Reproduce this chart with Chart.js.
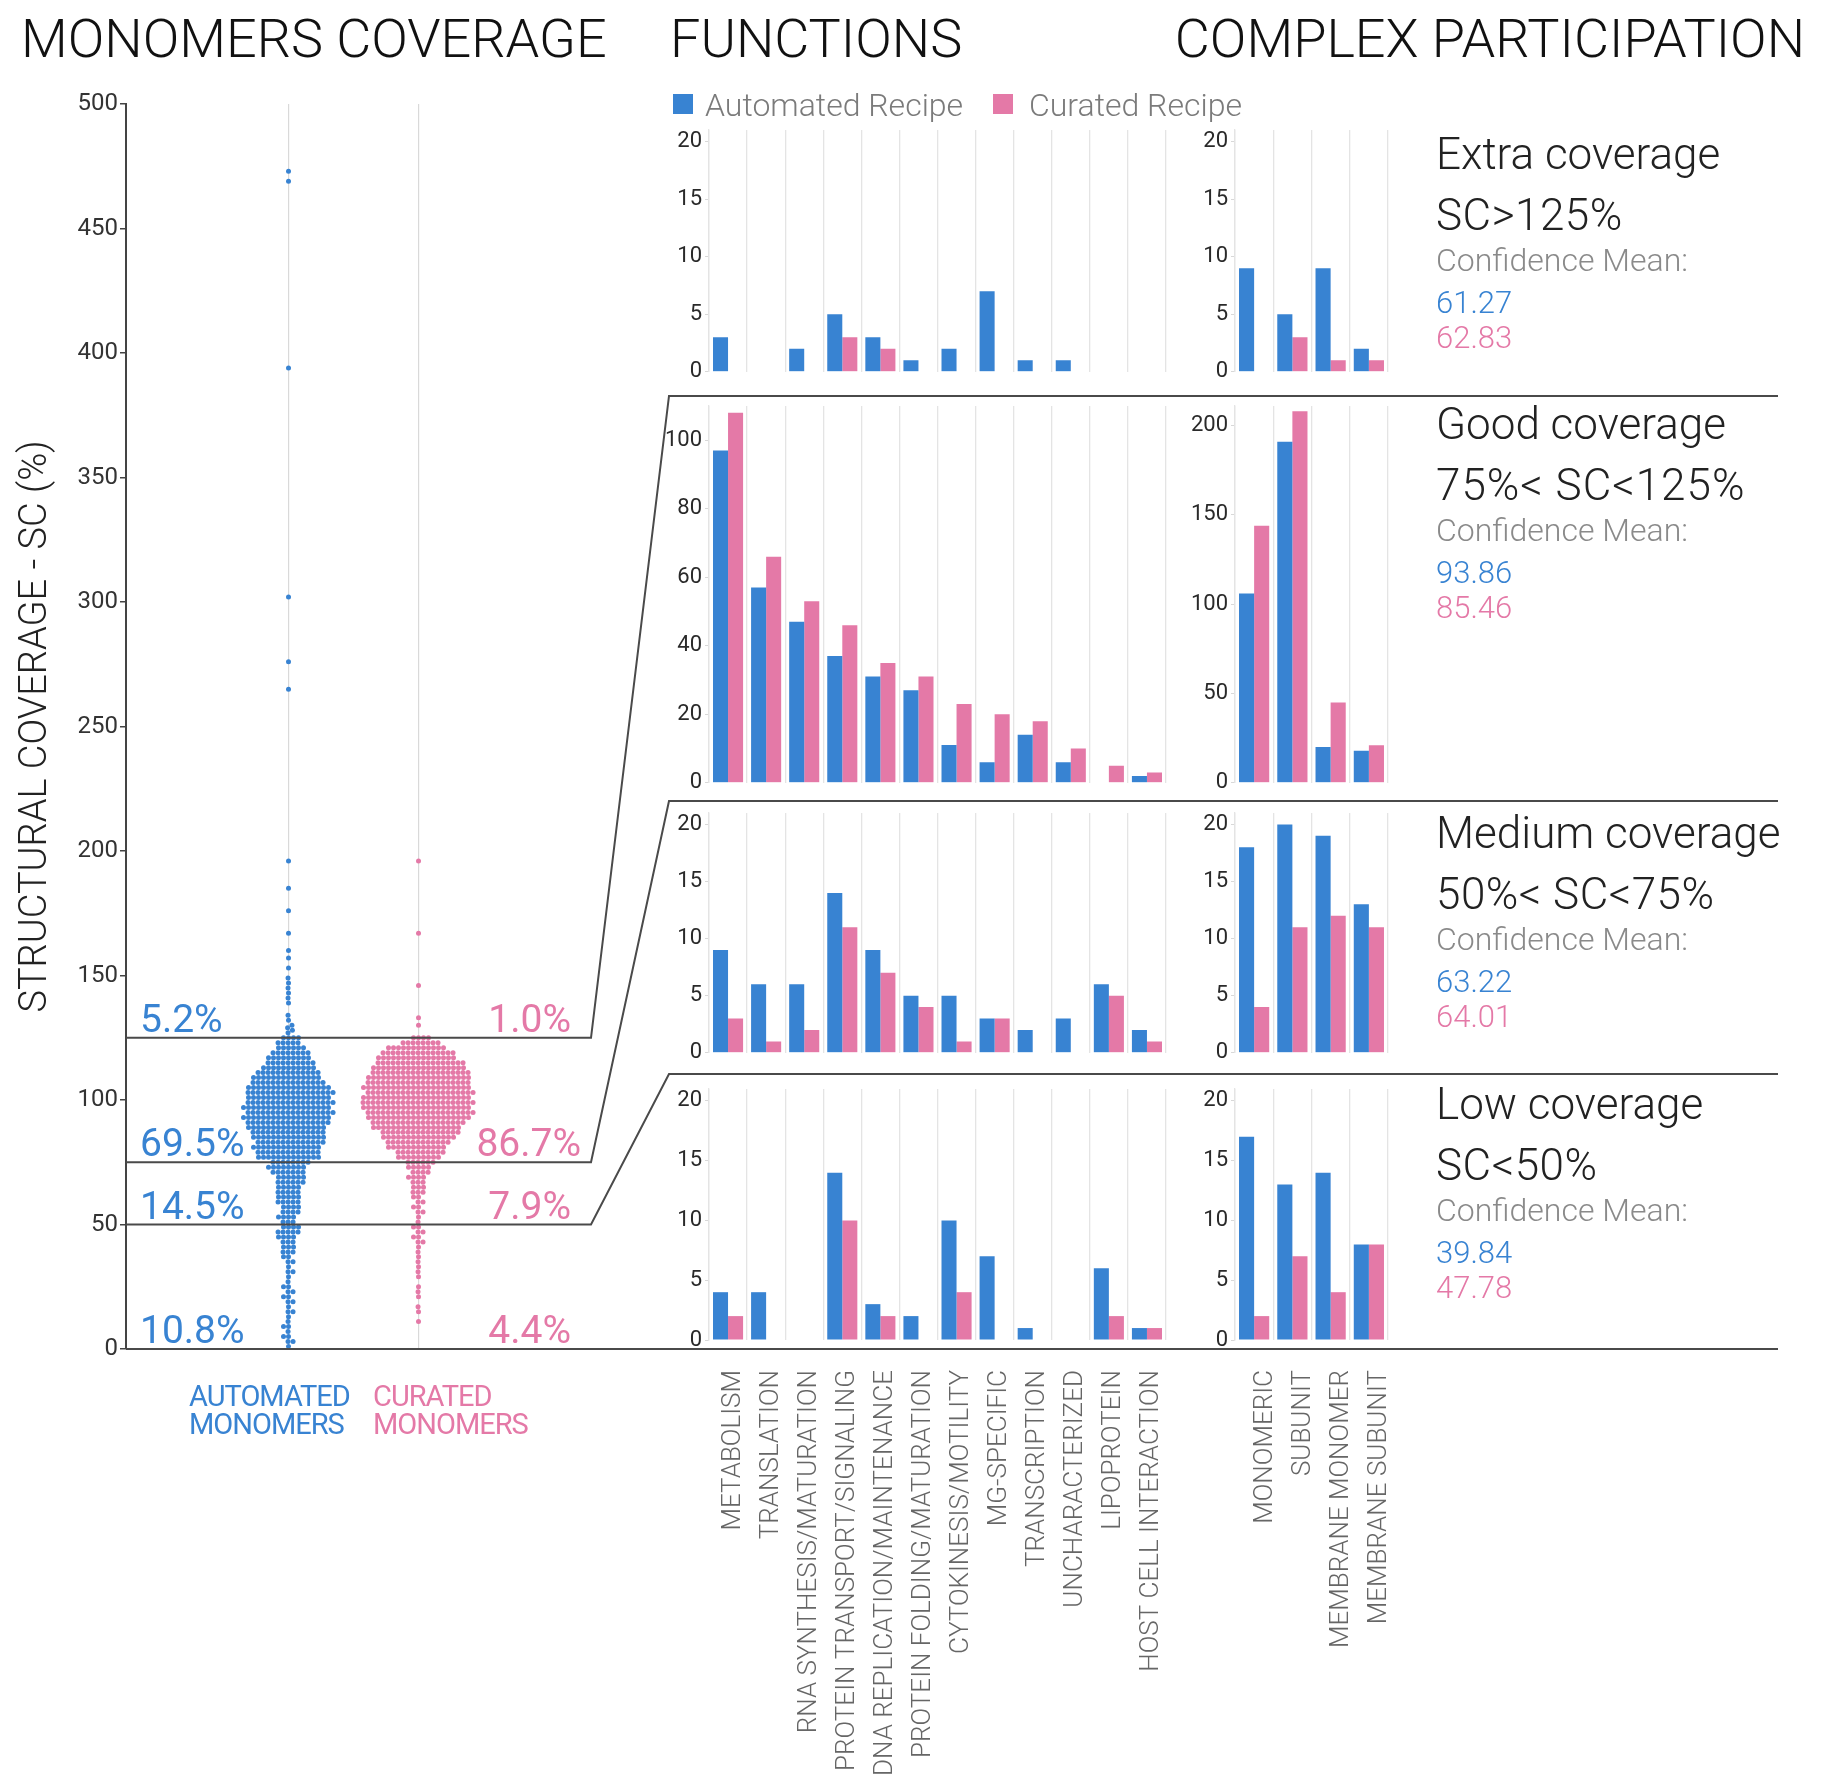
<!DOCTYPE html>
<html>
<head>
<meta charset="utf-8">
<title>Monomers coverage</title>
<script src="https://cdn.jsdelivr.net/npm/chart.js@4.4.1/dist/chart.umd.min.js"></script>
<style>
  html, body { margin: 0; padding: 0; background: #fff; }
  #page { position: relative; width: 1828px; height: 1790px; overflow: hidden;
          font-family: Roboto, 'Liberation Sans', Arial, sans-serif; }
  canvas { position: absolute; }
  .txt { position: absolute; white-space: nowrap; line-height: 1; z-index: 2; }
  .box { position: absolute; width: 20px; height: 20px; z-index: 2; }
</style>
</head>
<body>
<div id="page">
  <canvas id="swarm" width="1828" height="1790" style="left:0;top:0;z-index:0"></canvas>
</div>
<script>
// ---- data ----
const functionLabels = ['METABOLISM', 'TRANSLATION', 'RNA SYNTHESIS/MATURATION', 'PROTEIN TRANSPORT/SIGNALING',
  'DNA REPLICATION/MAINTENANCE', 'PROTEIN FOLDING/MATURATION', 'CYTOKINESIS/MOTILITY', 'MG-SPECIFIC',
  'TRANSCRIPTION', 'UNCHARACTERIZED', 'LIPOPROTEIN', 'HOST CELL INTERACTION'];
const complexLabels = ['MONOMERIC', 'SUBUNIT', 'MEMBRANE MONOMER', 'MEMBRANE SUBUNIT'];

// functions: number of proteins per coverage class
const fnExtraAuto = [3, 0, 2, 5, 3, 1, 2, 7, 1, 1, 0, 0];
const fnExtraCur  = [0, 0, 0, 3, 2, 0, 0, 0, 0, 0, 0, 0];
const fnGoodAuto  = [97, 57, 47, 37, 31, 27, 11, 6, 14, 6, 0, 2];
const fnGoodCur   = [108, 66, 53, 46, 35, 31, 23, 20, 18, 10, 5, 3];
const fnMedAuto   = [9, 6, 6, 14, 9, 5, 5, 3, 2, 3, 6, 2];
const fnMedCur    = [3, 1, 2, 11, 7, 4, 1, 3, 0, 0, 5, 1];
const fnLowAuto   = [4, 4, 0, 14, 3, 2, 10, 7, 1, 0, 6, 1];
const fnLowCur    = [2, 0, 0, 10, 2, 0, 4, 0, 0, 0, 2, 1];

// complex participation
const cxExtraAuto = [9, 5, 9, 2];
const cxExtraCur  = [0, 3, 1, 1];
const cxGoodAuto  = [106, 191, 20, 18];
const cxGoodCur   = [144, 208, 45, 21];
const cxMedAuto   = [18, 20, 19, 13];
const cxMedCur    = [4, 11, 12, 11];
const cxLowAuto   = [17, 13, 14, 8];
const cxLowCur    = [2, 7, 4, 8];

const smallTicks  = [0, 5, 10, 15, 20];
const fnGoodTicks = [0, 20, 40, 60, 80, 100];
const cxGoodTicks = [0, 50, 100, 150, 200];
const swarmTicks  = [0, 50, 100, 150, 200, 250, 300, 350, 400, 450, 500];

// swarm: monomer counts per 2% SC bin (bin centre) + single outliers above 126%
const swarmBins = [1, 3, 5, 7, 9, 11, 13, 15, 17, 19, 21, 23, 25, 27, 29, 31, 33, 35, 37, 39, 41, 43, 45, 47, 49,
  51, 53, 55, 57, 59, 61, 63, 65, 67, 69, 71, 73, 75,
  77, 79, 81, 83, 85, 87, 89, 91, 93, 95, 97, 99, 101, 103, 105, 107, 109, 111, 113, 115, 117, 119, 121, 123, 125];
const autoCounts = [1, 2, 2, 1, 2, 1, 1, 2, 1, 2, 2, 2, 2, 1, 1, 2, 1, 2, 2, 3, 3, 3, 4, 5, 4,
  3, 4, 4, 4, 5, 5, 5, 5, 6, 6, 7, 8, 8,
  13, 13, 14, 14, 15, 15, 16, 17, 18, 18, 18, 18, 17, 18, 17, 15, 14, 13, 11, 10, 9, 8, 6, 5, 4];
const curCounts = [0, 0, 0, 0, 0, 1, 0, 1, 1, 0, 1, 1, 1, 0, 1, 1, 1, 1, 1, 1, 1, 2, 2, 2, 2,
  1, 1, 2, 2, 2, 2, 3, 3, 3, 4, 4, 5, 6,
  9, 10, 12, 13, 15, 16, 18, 19, 21, 22, 22, 23, 22, 22, 22, 21, 21, 20, 19, 18, 16, 15, 12, 8, 4];
const autoOutliers = [127, 128, 129, 130, 132, 134, 139, 141, 143, 145, 147, 149, 153, 157, 160, 167, 176, 185, 196,
  265, 276, 302, 394, 469, 473];
const curOutliers = [130, 133, 146, 167, 196];

const thresholds = [125, 75, 50];
const shareFloors = [125, 75, 50, 0];
const autoShares = ['5.2%', '69.5%', '14.5%', '10.8%'];
const curShares = ['1.0%', '86.7%', '7.9%', '4.4%'];

const classNames = ['Extra coverage', 'Good coverage', 'Medium coverage', 'Low coverage'];
const classRanges = ['SC>125%', '75%< SC<125%', '50%< SC<75%', 'SC<50%'];
const autoConfidence = ['61.27', '93.86', '63.22', '39.84'];
const curConfidence = ['62.83', '85.46', '64.01', '47.78'];

// ---- look ----
const BLUE = '#3883d2';
const PINK = '#e479a7';
const FONT = "Roboto, 'Liberation Sans', Arial, sans-serif";
const page = document.getElementById('page');

const panelTops = [396, 801, 1074];   // separator lines of good / medium / low panels
const BEND_X = 591, PANEL_X = 669, RIGHT_X = 1778;

function expand(bins, counts) {
  const out = [];
  bins.forEach((b, i) => { for (let k = 0; k < counts[i]; k++) out.push(b); });
  return out;
}
const autoValues = expand(swarmBins, autoCounts).concat(autoOutliers);
const curValues = expand(swarmBins, curCounts).concat(curOutliers);

// lines joining the swarm thresholds to the panels
const guideLines = {
  id: 'guideLines',
  afterDatasetsDraw(chart) {
    const { ctx, chartArea, scales: { y } } = chart;
    ctx.save();
    ctx.strokeStyle = '#4a4a4a';
    ctx.lineWidth = 2;
    thresholds.forEach((t, i) => {
      const yy = y.getPixelForValue(t);
      ctx.beginPath();
      ctx.moveTo(chartArea.left, yy);
      ctx.lineTo(BEND_X, yy);
      ctx.lineTo(PANEL_X, panelTops[i]);
      ctx.lineTo(RIGHT_X, panelTops[i]);
      ctx.stroke();
    });
    const y0 = y.getPixelForValue(0);
    ctx.beginPath();
    ctx.moveTo(chartArea.left, y0);
    ctx.lineTo(RIGHT_X, y0);
    ctx.stroke();
    ctx.restore();
  }
};

const swarmChart = new Chart(document.getElementById('swarm'), {
  type: 'scatter',
  data: {
    datasets: [
      { label: 'AUTOMATED MONOMERS', data: autoValues.map(v => ({ x: 1, y: v })),
        pointBackgroundColor: BLUE, pointRadius: 2.5, pointBorderWidth: 0 },
      { label: 'CURATED MONOMERS', data: curValues.map(v => ({ x: 2, y: v })),
        pointBackgroundColor: PINK, pointRadius: 2.5, pointBorderWidth: 0 }
    ]
  },
  options: {
    responsive: false,
    animation: false,
    layout: { padding: { left: 0, top: 104, right: 1828 - 711, bottom: 1790 - 1349 } },
    plugins: { legend: { display: false }, tooltip: { enabled: false } },
    scales: {
      x: {
        type: 'linear', min: -0.25, max: 4.25,
        afterBuildTicks: s => { s.ticks = [{ value: 1 }, { value: 2 }]; },
        afterFit: s => { s.height = 0; },
        ticks: { display: false },
        grid: { color: '#d9d9d9', lineWidth: 1.2, drawTicks: false },
        border: { display: false }
      },
      y: {
        min: 0, max: 500,
        afterBuildTicks: s => { s.ticks = swarmTicks.map(v => ({ value: v })); },
        afterFit: s => { s.width = 126; },
        ticks: { font: { family: FONT, size: 24 }, color: '#333', padding: 2 },
        grid: { drawOnChartArea: false, drawTicks: true, tickLength: 6, color: '#444', lineWidth: 1.5 },
        border: { display: true, color: '#444', width: 2 },
        title: { display: true, text: 'STRUCTURAL COVERAGE - SC (%)', color: '#222',
                 font: { family: FONT, size: 38, weight: '300' }, padding: { top: 14, bottom: 0 } }
      }
    }
  },
  plugins: [guideLines]
});

// simple beeswarm: put each dot as close to the centre as it can go without overlap
function swarmOffsets(values, pxPerValue, minDist) {
  const order = values.map((v, i) => i).sort((a, b) => values[a] - values[b]);
  const placed = [];
  const out = new Array(values.length).fill(0);
  order.forEach(i => {
    const yi = values[i] * pxPerValue;
    const blocks = [];
    placed.forEach(p => {
      const dy = Math.abs(p.y - yi);
      if (dy < minDist) {
        const half = Math.sqrt(minDist * minDist - dy * dy);
        blocks.push([p.x - half, p.x + half]);
      }
    });
    const candidates = [0];
    blocks.forEach(b => candidates.push(b[0], b[1]));
    candidates.sort((a, b) => Math.abs(a) - Math.abs(b) || a - b);
    const x = candidates.find(c => blocks.every(b => c <= b[0] + 1e-6 || c >= b[1] - 1e-6));
    out[i] = x;
    placed.push({ x, y: yi });
  });
  return out;
}

const xs = swarmChart.scales.x, ys = swarmChart.scales.y;
const pxPerX = xs.getPixelForValue(1) - xs.getPixelForValue(0);
const pxPerY = ys.getPixelForValue(0) - ys.getPixelForValue(1);
[autoValues, curValues].forEach((vals, d) => {
  const offs = swarmOffsets(vals, pxPerY, 5);
  swarmChart.data.datasets[d].data = vals.map((v, i) => ({ x: d + 1 + offs[i] / pxPerX, y: v }));
});
swarmChart.update('none');

// ---- bar panels ----
function makePanel(left, top, width, height, labels, autoVals, curVals, yMax, yTicks, axisWidth, withLabels, labelShift) {
  const canvas = document.createElement('canvas');
  canvas.width = width;
  canvas.height = height;
  canvas.style.left = left + 'px';
  canvas.style.top = top + 'px';
  canvas.style.zIndex = 1;
  page.appendChild(canvas);
  return new Chart(canvas, {
    type: 'bar',
    data: {
      labels: labels,
      datasets: [
        { label: 'Automated Recipe', data: autoVals, backgroundColor: BLUE },
        { label: 'Curated Recipe', data: curVals, backgroundColor: PINK }
      ]
    },
    options: {
      responsive: false,
      animation: false,
      layout: { padding: { left: 0, right: 2, top: 20, bottom: withLabels ? 0 : 10 } },
      datasets: { bar: { categoryPercentage: 0.79, barPercentage: 1.0, borderWidth: 0 } },
      plugins: { legend: { display: false }, tooltip: { enabled: false } },
      scales: {
        x: {
          afterFit: s => {
            s.height = withLabels ? 450 : 0;
            // rotated labels must not squeeze the plot area
            s.paddingLeft = 0;
            s.paddingRight = 0;
          },
          ticks: { display: withLabels, autoSkip: false, minRotation: 90, maxRotation: 90, padding: 30,
                   labelOffset: labelShift,
                   font: { family: FONT, size: 26, weight: '300' }, color: '#666' },
          grid: { color: '#e4e4e4', lineWidth: 1.3, drawTicks: false, offset: true },
          border: { display: false }
        },
        y: {
          min: 0, max: yMax,
          afterBuildTicks: s => { s.ticks = yTicks.map(v => ({ value: v })); },
          afterFit: s => { s.width = axisWidth; },
          ticks: { font: { family: FONT, size: 22 }, color: '#2a2a2a', padding: 3 },
          grid: { drawOnChartArea: false, drawTicks: true, tickLength: 4, color: '#d8d8d8' },
          border: { display: true, color: '#e4e4e4', width: 1.3 }
        }
      }
    }
  });
}

// rows: [canvas top, canvas height, fn data, cx data, fn max, cx max, fn ticks, cx ticks, labels?]
const rows = [
  [110, 278, fnExtraAuto, fnExtraCur, cxExtraAuto, cxExtraCur, 21, 21, smallTicks, smallTicks, false],
  [386, 413, fnGoodAuto, fnGoodCur, cxGoodAuto, cxGoodCur, 110, 211, fnGoodTicks, cxGoodTicks, false],
  [793, 276, fnMedAuto, fnMedCur, cxMedAuto, cxMedCur, 21, 21, smallTicks, smallTicks, false],
  [1069, 721, fnLowAuto, fnLowCur, cxLowAuto, cxLowCur, 21, 21, smallTicks, smallTicks, true]
];
rows.forEach(r => {
  makePanel(640, r[0], 528, r[1], functionLabels, r[2], r[3], r[6], r[8], 69, r[10], 5);
  makePanel(1170, r[0], 220, r[1], complexLabels, r[4], r[5], r[7], r[9], 65, r[10], 11);
});

// ---- text ----
function addText(str, x, baseline, size, color, opts = {}) {
  const el = document.createElement('div');
  el.className = 'txt';
  el.textContent = str;
  el.style.fontSize = size + 'px';
  el.style.color = color;
  el.style.fontWeight = opts.weight || 300;
  el.style.top = (baseline - size * 0.84) + 'px';
  if (opts.right) el.style.right = (1828 - x) + 'px';
  else el.style.left = x + 'px';
  if (opts.spacing) el.style.letterSpacing = opts.spacing;
  page.appendChild(el);
}
function addBox(x, y, color) {
  const el = document.createElement('div');
  el.className = 'box';
  el.style.left = x + 'px';
  el.style.top = y + 'px';
  el.style.background = color;
  page.appendChild(el);
}

addText('MONOMERS COVERAGE', 21, 57, 54, '#111');
addText('FUNCTIONS', 670, 57, 54, '#111');
addText('COMPLEX PARTICIPATION', 1805, 57, 54, '#111', { right: true });

addBox(673, 94, BLUE);
addText('Automated Recipe', 705, 116, 32, '#7b7b7b');
addBox(993, 94, PINK);
addText('Curated Recipe', 1029, 116, 32, '#7b7b7b');

shareFloors.forEach((f, i) => {
  const base = ys.getPixelForValue(f) - 5;
  addText(autoShares[i], 140, base, 39, BLUE, { weight: 400 });
  addText(curShares[i], i === 1 ? 581 : 571, base, 39, PINK, { weight: 400, right: true });
});

addText('AUTOMATED', 189, 1406, 29, BLUE, { weight: 400, spacing: '-1px' });
addText('MONOMERS', 189, 1434, 29, BLUE, { weight: 400, spacing: '-1px' });
addText('CURATED', 373, 1406, 29, PINK, { weight: 400, spacing: '-1px' });
addText('MONOMERS', 373, 1434, 29, PINK, { weight: 400, spacing: '-1px' });

const blockTops = [169, 439, 848, 1119];
blockTops.forEach((b, i) => {
  addText(classNames[i], 1436, b, 44, '#222');
  addText(classRanges[i], 1436, b + 61, 44, '#222', { spacing: i === 1 ? '1px' : '0.5px' });
  addText('Confidence Mean:', 1436, b + 102, 32, '#8a8a8a');
  addText(autoConfidence[i], 1436, b + 144, 31, BLUE);
  addText(curConfidence[i], 1436, b + 179, 31, PINK);
});
</script>
</body>
</html>
